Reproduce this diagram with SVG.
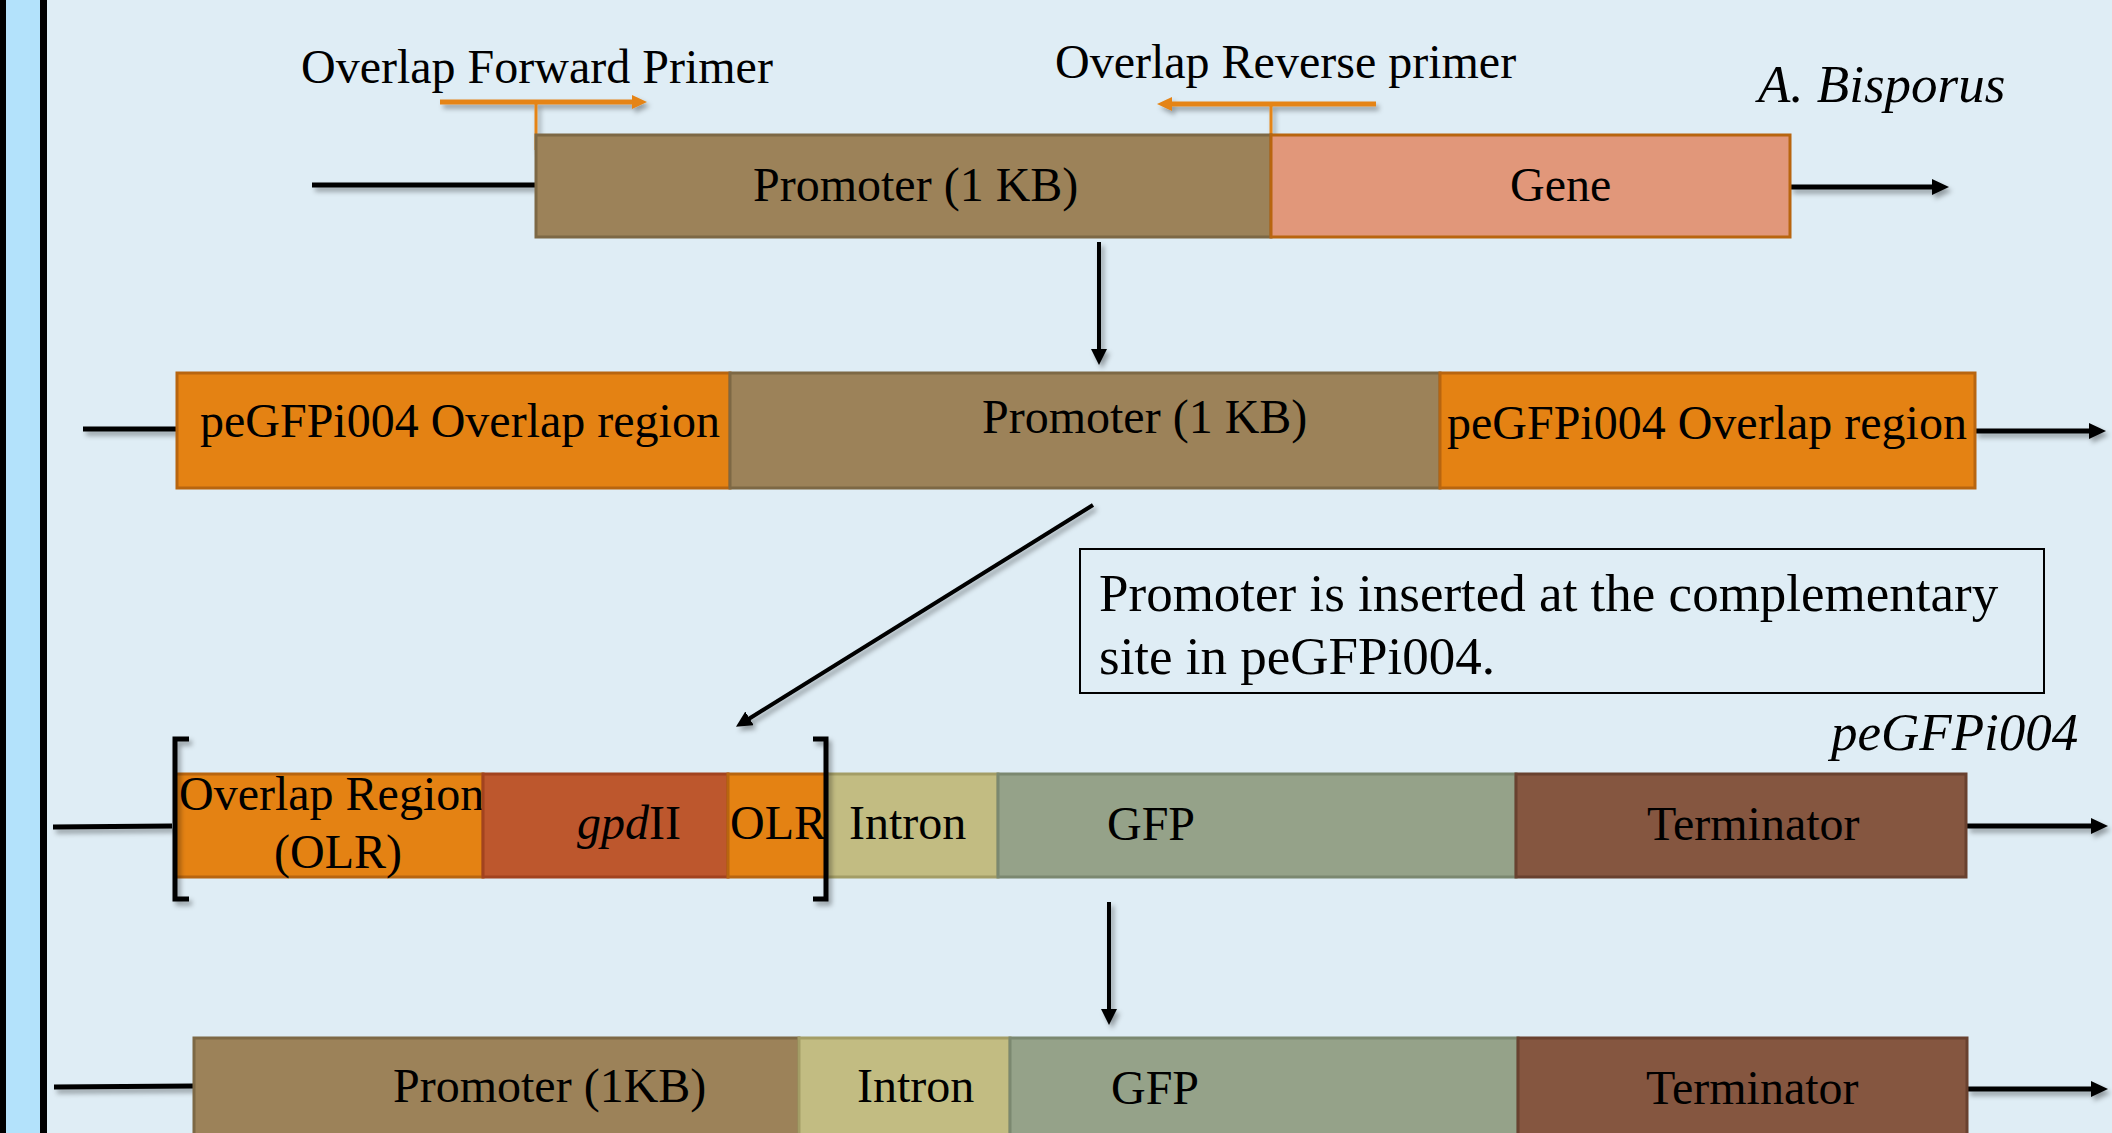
<svg xmlns="http://www.w3.org/2000/svg" width="2112" height="1133" viewBox="0 0 2112 1133">
  <defs>
    <style>
      text { font-family: "Liberation Serif", "Times New Roman", serif; font-size: 48px; fill: #000; }
      .it { font-style: italic; }
      .big { font-size: 53px; }
      .wire { stroke: #000; stroke-width: 5; fill: none; }
      .thin { stroke: #000; stroke-width: 4; fill: none; }
      .primer { stroke: #e58417; stroke-width: 5; fill: none; }
      .tick { stroke: #e58417; stroke-width: 3; fill: none; }
      .promoter { fill: #9c8259; stroke: #7d6845; stroke-width: 3; }
      .gene { fill: #e1977a; stroke: #b8650f; stroke-width: 3; }
      .olr { fill: #e48213; stroke: #b8650f; stroke-width: 3; }
      .gpd { fill: #bd572d; stroke: #a2431f; stroke-width: 3; }
      .intron { fill: #c2bc82; stroke: #a39d66; stroke-width: 3; }
      .gfp { fill: #95a289; stroke: #7b8870; stroke-width: 3; }
      .term { fill: #855640; stroke: #69412f; stroke-width: 3; }
      .bracket { stroke: #000; stroke-width: 5; fill: none; }
    </style>
    <marker id="head" markerUnits="userSpaceOnUse" markerWidth="20" markerHeight="20" refX="3" refY="9" orient="auto">
      <path d="M0,1 L17,9 L0,17 Z" fill="#000"/>
    </marker>
    <marker id="headSmall" markerUnits="userSpaceOnUse" markerWidth="20" markerHeight="20" refX="3" refY="8" orient="auto">
      <path d="M0,0 L16,8 L0,16 Z" fill="#000"/>
    </marker>
    <marker id="headOrange" markerUnits="userSpaceOnUse" markerWidth="20" markerHeight="20" refX="3" refY="8" orient="auto">
      <path d="M0,1 L15,8 L0,15 Z" fill="#e58417"/>
    </marker>
    <filter id="shadow" x="-10%" y="-50%" width="120%" height="200%">
      <feDropShadow dx="3" dy="4" stdDeviation="2.5" flood-color="#000" flood-opacity="0.35"/>
    </filter>
  </defs>

  <!-- page background and left edge band -->
  <rect x="0" y="0" width="2112" height="1133" fill="#dfedf5"/>
  <rect x="0" y="0" width="6" height="1133" fill="#000"/>
  <rect x="6" y="0" width="34" height="1133" fill="#b3e2fb"/>
  <rect x="40" y="0" width="7" height="1133" fill="#000"/>

  <!-- connectors: backbone lines, flow arrows, primers -->
  <g id="connectors" filter="url(#shadow)">
    <!-- row 1 backbone -->
    <line class="wire" x1="312" y1="185" x2="536" y2="185"/>
    <line class="wire" x1="1790" y1="187" x2="1935" y2="187" marker-end="url(#head)"/>
    <!-- row 2 backbone -->
    <line class="wire" x1="83" y1="429" x2="177" y2="429"/>
    <line class="wire" x1="1975" y1="431" x2="2092" y2="431" marker-end="url(#head)"/>
    <!-- row 3 backbone -->
    <line class="wire" x1="53" y1="827" x2="172" y2="826"/>
    <line class="wire" x1="1967" y1="826" x2="2094" y2="826" marker-end="url(#head)"/>
    <!-- row 4 backbone -->
    <line class="wire" x1="54" y1="1087" x2="194" y2="1086"/>
    <line class="wire" x1="1967" y1="1089" x2="2094" y2="1089" marker-end="url(#head)"/>

    <!-- flow arrows between rows -->
    <line class="thin" x1="1099" y1="242" x2="1099" y2="352" marker-end="url(#headSmall)"/>
    <line class="thin" x1="1093" y1="505" x2="747" y2="720" marker-end="url(#headSmall)"/>
    <line class="thin" x1="1109" y1="902" x2="1109" y2="1012" marker-end="url(#headSmall)"/>
  </g>

  <g id="primers" filter="url(#shadow)">
    <line class="primer" x1="440" y1="102" x2="635" y2="102" marker-end="url(#headOrange)"/>
    <line class="tick" x1="536" y1="102" x2="536" y2="150"/>
    <line class="primer" x1="1376" y1="104" x2="1169" y2="104" marker-end="url(#headOrange)"/>
    <line class="tick" x1="1271" y1="104" x2="1271" y2="136"/>
  </g>

  <!-- row 1: A. bisporus genomic locus -->
  <g id="row1-promoter">
    <rect class="promoter" x="536" y="135" width="735" height="102"/>
    <text x="753" y="201">Promoter (1 KB)</text>
  </g>
  <g id="row1-gene">
    <rect class="gene" x="1271" y="135" width="519" height="102"/>
    <text x="1510" y="201">Gene</text>
  </g>
  <g id="label-primer-forward">
    <text x="301" y="83">Overlap Forward Primer</text>
  </g>
  <g id="label-primer-reverse">
    <text x="1055" y="78">Overlap Reverse primer</text>
  </g>
  <g id="label-species">
    <text class="it big" x="1758" y="102">A. Bisporus</text>
  </g>

  <!-- row 2: amplified promoter with overlap ends -->
  <g id="row2-overlap-left">
    <rect class="olr" x="177" y="373" width="553" height="115"/>
    <text x="200" y="437">peGFPi004 Overlap region</text>
  </g>
  <g id="row2-promoter">
    <rect class="promoter" x="730" y="373" width="710" height="115"/>
    <text x="982" y="433">Promoter (1 KB)</text>
  </g>
  <g id="row2-overlap-right">
    <rect class="olr" x="1440" y="373" width="535" height="115"/>
    <text x="1447" y="439">peGFPi004 Overlap region</text>
  </g>

  <!-- note box -->
  <g id="note">
    <rect x="1080" y="549" width="964" height="144" fill="none" stroke="#000" stroke-width="2"/>
    <text class="big" x="1099" y="611">Promoter is inserted at the complementary</text>
    <text class="big" x="1099" y="674">site in peGFPi004.</text>
  </g>

  <!-- row 3: peGFPi004 vector -->
  <g id="label-vector">
    <text class="it big" x="1831" y="750">peGFPi004</text>
  </g>
  <g id="row3-olr-left">
    <rect class="olr" x="175" y="774" width="308" height="103"/>
    <text x="179" y="810">Overlap Region</text>
    <text x="274" y="868">(OLR)</text>
  </g>
  <g id="row3-gpd">
    <rect class="gpd" x="483" y="774" width="245" height="103"/>
    <text x="577" y="839"><tspan class="it">gpd</tspan>II</text>
  </g>
  <g id="row3-olr-right">
    <rect class="olr" x="728" y="774" width="99" height="103"/>
    <text x="730" y="839">OLR</text>
  </g>
  <g id="row3-intron">
    <rect class="intron" x="827" y="774" width="171" height="103"/>
    <text x="849" y="839">Intron</text>
  </g>
  <g id="row3-gfp">
    <rect class="gfp" x="998" y="774" width="518" height="103"/>
    <text x="1107" y="840">GFP</text>
  </g>
  <g id="row3-terminator">
    <rect class="term" x="1516" y="774" width="450" height="103"/>
    <text x="1647" y="840">Terminator</text>
  </g>
  <g id="row3-bracket" filter="url(#shadow)">
    <path class="bracket" d="M189,739 L175,739 L175,899 L189,899"/>
    <path class="bracket" d="M813,739 L826,739 L826,899 L813,899"/>
  </g>

  <!-- row 4: final construct -->
  <g id="row4-promoter">
    <rect class="promoter" x="194" y="1038" width="605" height="110"/>
    <text x="393" y="1102">Promoter (1KB)</text>
  </g>
  <g id="row4-intron">
    <rect class="intron" x="799" y="1038" width="211" height="110"/>
    <text x="857" y="1102">Intron</text>
  </g>
  <g id="row4-gfp">
    <rect class="gfp" x="1010" y="1038" width="508" height="110"/>
    <text x="1111" y="1104">GFP</text>
  </g>
  <g id="row4-terminator">
    <rect class="term" x="1518" y="1038" width="449" height="110"/>
    <text x="1646" y="1104">Terminator</text>
  </g>
</svg>
